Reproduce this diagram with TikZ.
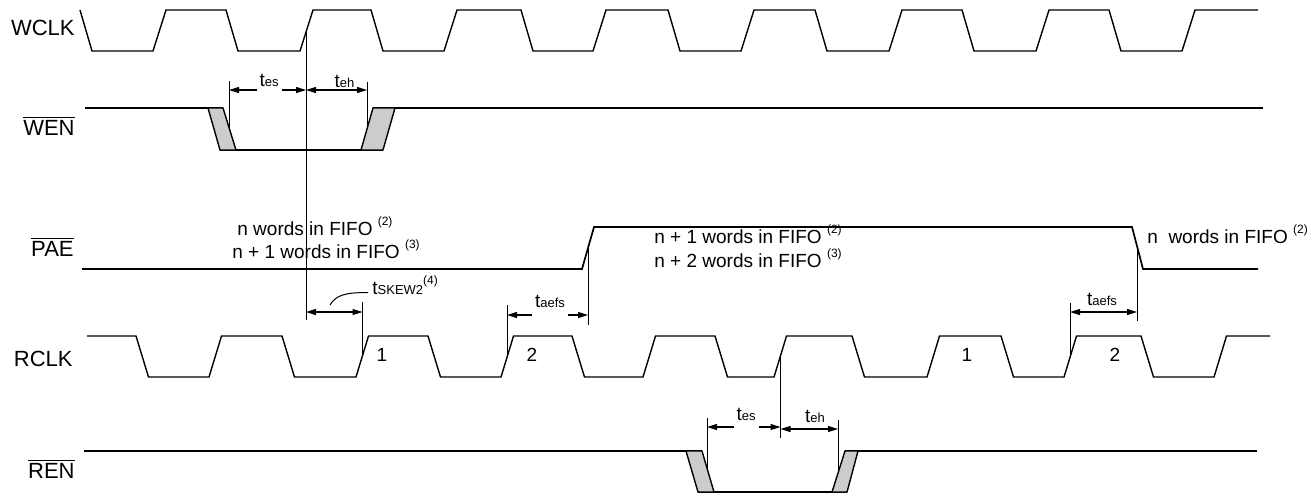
\documentclass[tikz,border=0pt]{standalone}
\usepackage{fontspec}
\setmainfont{Liberation Sans}
\usetikzlibrary{arrows.meta}
\definecolor{edgegray}{gray}{0.8}
\newcommand{\subtxt}[1]{{\fontsize{6.5}{7}\selectfont #1}}
\newcommand{\supnote}[1]{\raisebox{0.95ex}{\fontsize{6}{7}\selectfont(#1)}}

\begin{document}
\begin{tikzpicture}[x=0.5pt,y=-0.5pt,>={Triangle[length=5pt,width=3pt]},
    clk/.style={line width=0.7pt,line join=miter},
    sig/.style={line width=0.85pt},
    shade/.style={draw,line width=0.7pt,fill=edgegray},
    marker/.style={line width=0.5pt},
    dim/.style={line width=0.55pt,<->},
    signame/.style={anchor=base east,inner sep=0pt,font=\fontsize{11}{13}\selectfont},
    note/.style={anchor=base west,inner sep=0pt,font=\fontsize{9.5}{11}\selectfont},
    tlbl/.style={anchor=base,inner sep=0pt,font=\fontsize{9.5}{11}\selectfont},
    masked/.style={fill=white,inner xsep=1.5pt,text depth=5pt}]
    \useasboundingbox (0,0) rectangle (1315,495);

    % signal names
    \node[signame] (wclk) at (75,35) {WCLK};
    \node[signame] (wen) at (75,135) {$\overline{\mbox{WEN}}$};
    \node[signame] (pae) at (74,256) {$\overline{\mbox{PAE}}$};
    \node[signame] (rclk) at (73,366) {RCLK};
    \node[signame] (ren) at (75,478) {$\overline{\mbox{REN}}$};

    % write clock
    \draw[clk] (80,10) -- (92,51)
        \foreach \r/\f in {153/226,300/371,444/521,593/668,741/815,889/962,1036/1109}
            { -- (\r,51) -- (\r+13,10) -- (\f,10) -- (\f+12,51) }
        -- (1182,51) -- (1195,10) -- (1258,10);

    % read clock
    \draw[clk] (87,336)
        \foreach \f/\r in {136/209,282/356,428/501,572/643,715/774,852/927,1001/1064,1141/1214}
            { -- (\f,336) -- (\f+12.5,377) -- (\r,377) -- (\r+12.5,336) }
        -- (1270,336);

    % write enable
    \draw[sig] (85,108) -- (223,108);
    \draw[sig] (220,150) -- (383,150);
    \draw[sig] (373,108) -- (1263,108);
    \filldraw[shade] (208,108) -- (223,108) -- (236,150) -- (220,150) -- cycle;
    \filldraw[shade] (361,150) -- (383,150) -- (395,108) -- (373,108) -- cycle;

    % almost empty flag
    \draw[sig] (82,269) -- (582,269) -- (594,227) -- (1132,227) -- (1143,269) -- (1258,269);

    % read enable
    \draw[sig] (84,451) -- (702,451);
    \draw[sig] (698,492) -- (847,492);
    \draw[sig] (845,451) -- (1257,451);
    \filldraw[shade] (686,451) -- (702,451) -- (714,492) -- (698,492) -- cycle;
    \filldraw[shade] (832,492) -- (847,492) -- (858,451) -- (845,451) -- cycle;

    % timing points
    \coordinate (wRise) at (306,31);
    \coordinate (wFoot) at (306,320);
    \coordinate (wenFall) at (229,127);
    \coordinate (wenRise) at (367,129);
    \coordinate (rRise1) at (362.5,356);
    \coordinate (rRise2) at (507,356);
    \coordinate (paeRise) at (588,248);
    \coordinate (rRise3) at (780.5,357);
    \coordinate (renFall) at (707,468);
    \coordinate (renRise) at (838,473);
    \coordinate (rRise4) at (1070,357);
    \coordinate (paeFall) at (1137,248);

    % reference lines
    \draw[marker] (wRise) -- (wFoot);
    \draw[marker] (wenFall) -- (229,81);
    \draw[marker] (wenRise) -- (367,82);
    \draw[marker] (rRise1) -- (362.5,302);
    \draw[marker] (rRise2) -- (507,305);
    \draw[marker] (paeRise) -- (588,325);
    \draw[marker] (rRise3) -- (780.5,438);
    \draw[marker] (renFall) -- (707,418);
    \draw[marker] (renRise) -- (838,420);
    \draw[marker] (rRise4) -- (1070,303);
    \draw[marker] (paeFall) -- (1137,321);

    % dimension arrows
    \draw[dim] (wenFall |- 0,90) -- (wRise |- 0,90);
    \draw[dim] (wRise |- 0,90) -- (wenRise |- 0,90);
    \draw[dim] (wRise |- 0,312) -- (rRise1 |- 0,312);
    \draw[dim] (rRise2 |- 0,315) -- (paeRise |- 0,315);
    \draw[dim] (rRise4 |- 0,312) -- (paeFall |- 0,312);
    \draw[dim] (renFall |- 0,427) -- (rRise3 |- 0,427);
    \draw[dim] (rRise3 |- 0,429) -- (renRise |- 0,429);

    % timing labels
    \node[tlbl,masked] (wes) at (269,86) {t\subtxt{es}};
    \node[tlbl] (weh) at (344.5,87) {t\subtxt{eh}};
    \node[note] (skew) at (372,294) {t\subtxt{SKEW2}\supnote{4}};
    \draw[marker] (330,305) .. controls (336,295) and (345,292.5) .. ([shift={(-4,-1.5)}]skew.base west);
    \node[tlbl,masked] (aefs1) at (550,307) {t\subtxt{aefs}};
    \node[tlbl] (aefs2) at (1102,305) {t\subtxt{aefs}};
    \node[tlbl,masked] (res) at (746,420) {t\subtxt{es}};
    \node[tlbl] (reh) at (815,422) {t\subtxt{eh}};

    % read clock counts
    \node[tlbl] (cnt1a) at (382,361) {1};
    \node[tlbl] (cnt2a) at (532,361) {2};
    \node[tlbl] (cnt1b) at (967,361) {1};
    \node[tlbl] (cnt2b) at (1115,361) {2};

    % FIFO level notes
    \node[note] (lvl1) at (237,235) {n words in FIFO \supnote{2}};
    \node[note] (lvl2) at (232,258) {n + 1 words in FIFO \supnote{3}};
    \node[note] (lvl3) at (654,243) {n + 1 words in FIFO \supnote{2}};
    \node[note] (lvl4) at (654,267) {n + 2 words in FIFO \supnote{3}};
    \node[note] (lvl5) at (1147,243) {n\ \ words in FIFO \supnote{2}};
\end{tikzpicture}
\end{document}
